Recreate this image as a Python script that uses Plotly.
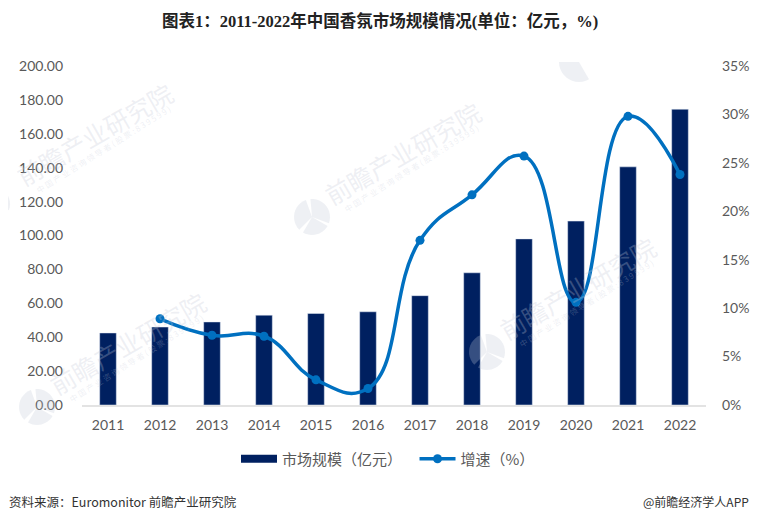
import math
import plotly.graph_objects as go

years = [str(y) for y in range(2011, 2023)]
market_size = [42.5, 46, 49, 53, 54, 55, 64.5, 78, 98, 108.5, 140.5, 174.5]
growth = [None, 8.9, 7.2, 7.1, 2.6, 1.7, 17.0, 21.7, 25.7, 10.6, 29.8, 23.8]
left_ticks = [0, 20, 40, 60, 80, 100, 120, 140, 160, 180, 200]
right_ticks = [0, 5, 10, 15, 20, 25, 30, 35]

NAVY = "#002060"
BLUE = "#0070C0"
GRAY = "#595959"
MARK = "rgba(195,200,215,0.28)"
SANS = "Noto Sans CJK SC, Liberation Sans, sans-serif"
TICK_FONT = "Lato, Noto Sans CJK SC, sans-serif"

# page body adds an 8px margin, so the figure is 8px smaller than the window
W, H = 752, 514


def px_x(x):
    return (x - 8) / W


def px_y(y):
    return 1 - (y - 8) / H


def wedge(cx, cy, r, start, end):
    # closed polygon for a slice of the round logo, angles in degrees
    pts = [(cx, cy)]
    for i in range(13):
        a = math.radians(start + (end - start) * i / 12)
        pts.append((cx + r * math.cos(a), cy + r * math.sin(a)))
    return "M" + "L".join(f"{px_x(x):.4f},{px_y(y):.4f}" for x, y in pts) + "Z"


fig = go.Figure()

fig.add_trace(
    go.Bar(x=years, y=market_size, marker_color=NAVY, width=0.32, showlegend=False)
)
# legend swatch for the bars is wider than plotly's default square
# trailing wide space keeps the two legend items apart like the original
fig.add_trace(
    go.Scatter(
        x=[None],
        y=[None],
        mode="lines",
        line=dict(color=NAVY, width=8),
        name="市场规模（亿元）\u3000",
    )
)
fig.add_trace(
    go.Scatter(
        x=years,
        y=growth,
        yaxis="y2",
        mode="lines+markers",
        line=dict(color=BLUE, width=3.5, shape="spline", smoothing=1.3),
        marker=dict(color=BLUE, size=9),
        name="增速（%）",
    )
)

# watermarks, positioned by the centre of the round logo
for lx, ly, tx, ty in [
    (-8, 204, 94, 134),
    (312, 217, 402, 153),
    (37, 407, 127, 343),
    (487, 352, 577, 288),
]:
    fig.add_annotation(
        x=px_x(tx),
        y=px_y(ty),
        xanchor="center",
        text="前瞻产业研究院",
        textangle=-30,
        font=dict(family=SANS, size=25, color=MARK),
    )
    fig.add_annotation(
        x=px_x(tx + 9),
        y=px_y(ty + 15),
        xanchor="center",
        text="中 国 产 业 咨 询 领 导 者 ( 股 票 : 8 3 9 5 9 9 )",
        textangle=-32,
        font=dict(family=SANS, size=8, color=MARK),
    )
    for start, end in [(-95, 20), (30, 120), (135, 250)]:
        fig.add_shape(
            type="path",
            path=wedge(lx, ly, 18, start, end),
            xref="paper",
            yref="paper",
            fillcolor=MARK,
            line_width=0,
        )

# logo cut off by the title band
fig.add_shape(
    type="path",
    path=wedge(579, 62, 20, 60, 180),
    xref="paper",
    yref="paper",
    fillcolor=MARK,
    line_width=0,
)

fig.add_annotation(
    x=px_x(380),
    y=px_y(21),
    xanchor="center",
    text="<b>图表1：2011-2022年中国香氛市场规模情况(单位：亿元，%)</b>",
    font=dict(family="Liberation Serif, Noto Sans CJK SC", size=16.5, color="#222222"),
)
fig.add_annotation(
    x=px_x(7),
    y=px_y(501),
    xanchor="left",
    text="资料来源：Euromonitor 前瞻产业研究院",
    font=dict(family=SANS, size=12.5, color="#333333"),
)
# the page clips at x=752, so this one ends a little short of the original
fig.add_annotation(
    x=px_x(751),
    y=px_y(501),
    xanchor="right",
    text="@前瞻经济学人APP",
    font=dict(family=SANS, size=12, color="#333333"),
)
fig.update_annotations(xref="paper", yref="paper", showarrow=False, yanchor="middle")

fig.update_layout(
    width=W,
    height=H,
    margin=dict(l=0, r=0, t=0, b=0, autoexpand=False),
    paper_bgcolor="white",
    plot_bgcolor="white",
    font=dict(family=SANS, color=GRAY, size=14),
    xaxis=dict(
        domain=[px_x(82), px_x(706)],
        type="category",
        range=[-0.5, 11.5],
        showgrid=False,
        showline=True,
        linecolor="#E3E3E3",
        linewidth=1.5,
        ticks="",
        ticklabelstandoff=6,
        tickfont=dict(family=TICK_FONT, size=14, color=GRAY),
    ),
    yaxis=dict(
        domain=[px_y(405), px_y(66)],
        range=[0, 200],
        tickvals=left_ticks,
        ticktext=[f"{t:.2f}" for t in left_ticks],
        showgrid=False,
        zeroline=False,
        ticks="",
        ticklabelstandoff=18,
        tickfont=dict(family=TICK_FONT, size=14, color=GRAY),
    ),
    yaxis2=dict(
        range=[0, 35],
        overlaying="y",
        side="right",
        tickvals=right_ticks,
        ticktext=[f"{t}%" for t in right_ticks],
        showgrid=False,
        zeroline=False,
        ticks="",
        ticklabelstandoff=15,
        tickfont=dict(family=TICK_FONT, size=14, color=GRAY),
    ),
    legend=dict(
        orientation="h",
        x=px_x(388),
        xanchor="center",
        y=px_y(459),
        yanchor="middle",
        itemwidth=36,
        font=dict(size=15, color=GRAY),
        bgcolor="rgba(0,0,0,0)",
    ),
)

fig.write_html("out.html")
